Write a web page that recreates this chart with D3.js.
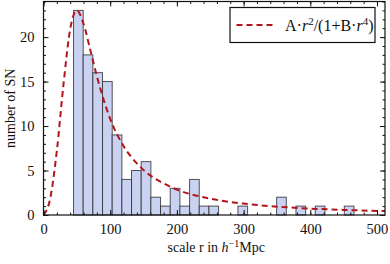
<!DOCTYPE html>
<html>
<head>
<meta charset="utf-8">
<script src="https://cdn.jsdelivr.net/npm/d3@7"></script>
<style>
  body { margin: 0; background: #fff; }
  svg { display: block; }
  text { font-family: "Liberation Serif", "DejaVu Serif", serif; fill: #111; }
</style>
</head>
<body>
<svg id="chart" width="390" height="264"></svg>
<script>
// histogram: bins start at 45, each 14.5 wide
var binStart = 45;
var binWidth = 14.5;
var counts = [23, 18, 16, 15, 9, 4, 5, 6, 2, 1, 3, 1, 4, 1, 1, 0, 0, 1, 0, 0, 0, 2, 0, 1, 0, 1, 0, 0, 1];

// fitted curve A*r^2/(1+B*r^4)
var fitR = [0, 10, 20, 30, 40, 50, 60, 70, 80, 90, 100, 120, 140, 160, 180, 200, 250, 300, 350, 400, 450, 512];
var fitN = [0, 1.84, 7.2, 14.7, 20.9, 23, 21.5, 18.6, 15.6, 13.0, 10.8, 7.75, 5.8, 4.45, 3.55, 2.86, 1.84, 1.28, 0.94, 0.72, 0.57, 0.44];

var xTicks = [0, 100, 200, 300, 400, 500];
var yTicks = [0, 5, 10, 15, 20];

///////////// DRAWING /////////////
var margin = {top: 1.5, right: 5, bottom: 49, left: 43.5};
var width = 390 - margin.left - margin.right;
var height = 264 - margin.top - margin.bottom;

var svg = d3.select("#chart");
var g = svg.append("g")
    .attr("transform", "translate(" + margin.left + "," + margin.top + ")");

var x = d3.scaleLinear().domain([0, 512]).range([0, width]);
var y = d3.scaleLinear().domain([0, 24]).range([height, 0]);

var bins = counts.map(function(c, i) {
  return {x0: binStart + i*binWidth, x1: binStart + (i+1)*binWidth, n: c};
}).filter(function(d) { return d.n > 0; });

g.selectAll("rect.bar")
    .data(bins)
  .enter().append("rect")
    .attr("class", "bar")
    .attr("x", function(d) { return x(d.x0); })
    .attr("y", function(d) { return y(d.n); })
    .attr("width", function(d) { return x(d.x1) - x(d.x0); })
    .attr("height", function(d) { return y(0) - y(d.n); })
    .attr("fill", "#cad2f2")
    .attr("stroke", "#2a2a2a")
    .attr("stroke-opacity", 0.8)
    .attr("stroke-width", 1);

// fitted curve
var line = d3.line()
    .x(function(d, i) { return x(fitR[i]); })
    .y(function(d) { return y(d); })
    .curve(d3.curveMonotoneX);

g.append("path")
    .datum(fitN)
    .attr("d", line)
    .attr("fill", "none")
    .attr("stroke", "#b3141c")
    .attr("stroke-width", 2)
    .attr("stroke-dasharray", "6,4");

// ticks on all four sides, pointing in
function minorRange(step, max) { return d3.range(0, max + 0.001, step); }
var xMinor = minorRange(20, 512);
var yMinor = minorRange(1, 24);

function tickAxis(axis, sel) {
  sel.call(axis);
  sel.select(".domain").remove();
  sel.selectAll("line").attr("stroke", "#111");
}

tickAxis(d3.axisBottom(x).tickValues(xMinor).tickSize(-2.5).tickFormat(""),
  g.append("g").attr("transform", "translate(0," + height + ")"));
tickAxis(d3.axisBottom(x).tickValues(xTicks).tickSize(-5).tickPadding(9).tickFormat(d3.format("d")),
  g.append("g").attr("class", "xlab").attr("transform", "translate(0," + height + ")"));
tickAxis(d3.axisTop(x).tickValues(xMinor).tickSize(-2.5).tickFormat(""), g.append("g"));
tickAxis(d3.axisTop(x).tickValues(xTicks).tickSize(-5).tickFormat(""), g.append("g"));

tickAxis(d3.axisLeft(y).tickValues(yMinor).tickSize(-2.5).tickFormat(""), g.append("g"));
tickAxis(d3.axisLeft(y).tickValues(yTicks).tickSize(-5).tickPadding(9).tickFormat(d3.format("d")),
  g.append("g").attr("class", "ylab"));
tickAxis(d3.axisRight(y).tickValues(yMinor).tickSize(-2.5).tickFormat(""),
  g.append("g").attr("transform", "translate(" + width + ",0)"));
tickAxis(d3.axisRight(y).tickValues(yTicks).tickSize(-5).tickFormat(""),
  g.append("g").attr("transform", "translate(" + width + ",0)"));

g.selectAll(".xlab text, .ylab text")
    .style("font-family", "'Liberation Serif', serif")
    .style("font-size", "14.5px")
    .attr("fill", "#111");

// frame
g.append("rect")
    .attr("width", width)
    .attr("height", height)
    .attr("fill", "none")
    .attr("stroke", "#111")
    .attr("stroke-width", 1.2);

// axis titles
svg.append("text")
    .attr("transform", "translate(15," + (margin.top + height/2) + ") rotate(-90)")
    .attr("text-anchor", "middle")
    .attr("font-size", 14)
    .text("number of SN");

var xt = svg.append("text")
    .attr("x", margin.left + width/2 + 2)
    .attr("y", 252)
    .attr("text-anchor", "middle")
    .attr("font-size", 14);
xt.append("tspan").text("scale r in ");
xt.append("tspan").attr("font-style", "italic").text("h");
xt.append("tspan").attr("font-size", 10).attr("dy", -5).text("\u22121");
xt.append("tspan").attr("dy", 5).text("Mpc");

// legend
var lg = g.append("g").attr("transform", "translate(" + (230 - margin.left) + "," + (7.5 - margin.top) + ")");
lg.append("rect")
    .attr("width", 145)
    .attr("height", 35)
    .attr("fill", "#fff")
    .attr("stroke", "#111")
    .attr("stroke-width", 1.2);
lg.append("line")
    .attr("x1", 6.5).attr("x2", 45)
    .attr("y1", 17.5).attr("y2", 17.5)
    .attr("stroke", "#b3141c")
    .attr("stroke-width", 2)
    .attr("stroke-dasharray", "6,4");
var lt = lg.append("text")
    .attr("x", 55)
    .attr("y", 23)
    .attr("font-size", 16);
lt.append("tspan").text("A\u00b7");
lt.append("tspan").attr("font-style", "italic").text("r");
lt.append("tspan").attr("font-size", 11).attr("dy", -6).text("2");
lt.append("tspan").attr("dy", 6).text("/(1+B\u00b7");
lt.append("tspan").attr("font-style", "italic").text("r");
lt.append("tspan").attr("font-size", 11).attr("dy", -6).text("4");
lt.append("tspan").attr("dy", 6).text(")");
</script>
</body>
</html>
